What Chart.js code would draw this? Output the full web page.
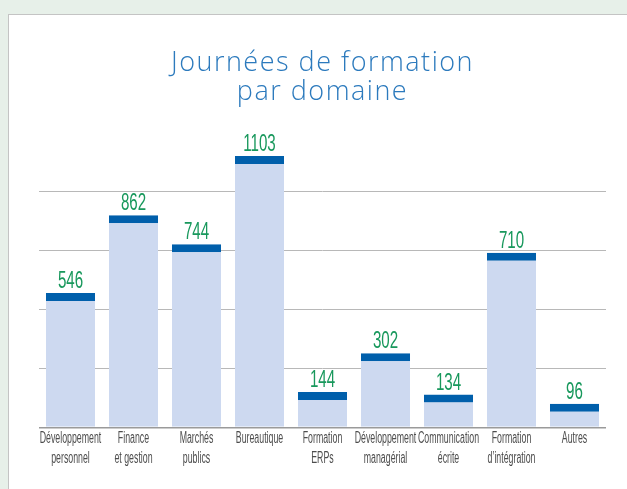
<!DOCTYPE html>
<html>
<head>
<meta charset="utf-8">
<script src="https://cdn.jsdelivr.net/npm/chart.js@4.4.1/dist/chart.umd.min.js"></script>
<style>
  html, body { margin: 0; padding: 0; width: 627px; height: 489px; overflow: hidden; background: #e7f0e9; }
  .card { position: absolute; left: 8px; top: 14px; width: 640px; height: 500px; background: #fff; border: 1px solid #c4c4c4; }
  #wrap { position: absolute; left: 0; top: 0; width: 627px; height: 489px; }
</style>
</head>
<body>
<div class="card"></div>
<div id="wrap"><canvas id="chart"></canvas></div>
<script>
// Domains and number of training days
const domains = [
  ['Développement', 'personnel'],
  ['Finance', 'et gestion'],
  ['Marchés', 'publics'],
  ['Bureautique'],
  ['Formation', 'ERPs'],
  ['Développement', 'managérial'],
  ['Communication', 'écrite'],
  ['Formation', 'd\u2019intégration'],
  ['Autres']
];
const days = [546, 862, 744, 1103, 144, 302, 134, 710, 96];
const gridTicks = [0, 240, 480, 720, 960];

const titleLines = ['Journées de formation', 'par domaine'];

// condensed text helper (the original uses a narrow DIN-like face)
function narrowText(ctx, text, x, y, sx) {
  ctx.save();
  ctx.translate(x, y);
  ctx.scale(sx, 1);
  ctx.fillText(text, 0, 0);
  ctx.restore();
}

const labelsPlugin = {
  id: 'labelsPlugin',
  beforeDraw(chart) {
    const ctx = chart.ctx;
    const cx = (chart.chartArea.left + chart.chartArea.right) / 2;
    ctx.save();
    ctx.fillStyle = '#2c7abd';
    ctx.font = '300 27px "Open Sans"';
    ctx.letterSpacing = '1.5px';
    ctx.textAlign = 'center';
    ctx.textBaseline = 'alphabetic';
    titleLines.forEach((t, i) => ctx.fillText(t, cx, 71 + i * 29));
    ctx.restore();
  },
  afterDatasetsDraw(chart) {
    const ctx = chart.ctx;
    const meta = chart.getDatasetMeta(0);
    ctx.save();
    // values above bars
    ctx.fillStyle = '#18985c';
    ctx.font = '400 24px "Liberation Sans"';
    ctx.textAlign = 'center';
    ctx.textBaseline = 'alphabetic';
    meta.data.forEach((bar, i) => {
      narrowText(ctx, String(days[i]), bar.x, bar.y - 5, 0.63);
    });
    // category labels under the axis
    ctx.fillStyle = '#4d4d4d';
    ctx.font = '400 16px "Liberation Sans"';
    const x = chart.scales.x;
    domains.forEach((lines, i) => {
      const px = x.getPixelForValue(i);
      lines.forEach((t, j) => {
        narrowText(ctx, t, px, 443 + j * 20, 0.55);
      });
    });
    ctx.restore();
  }
};

const ctx = document.getElementById('chart').getContext('2d');
const chart = new Chart(ctx, {
  type: 'bar',
  data: {
    labels: domains,
    datasets: [{
      data: days,
      backgroundColor: '#cdd9f0',
      borderColor: '#005fab',
      borderWidth: { top: 8, right: 0, bottom: 0, left: 0 },
      borderSkipped: 'bottom',
      barPercentage: 0.78,
      categoryPercentage: 1
    }]
  },
  options: {
    responsive: true,
    maintainAspectRatio: false,
    animation: false,
    layout: { padding: { left: 39, right: 21, top: 132, bottom: 61.5 } },
    plugins: {
      legend: { display: false },
      tooltip: { enabled: false },
      title: { display: false }
    },
    scales: {
      x: { display: false },
      y: {
        min: 0,
        max: 1200,
        afterBuildTicks: (scale) => {
          scale.ticks = gridTicks.map(v => ({ value: v }));
        },
        ticks: { display: false },
        border: { display: false },
        grid: {
          drawTicks: false,
          color: (c) => c.tick && c.tick.value === 0 ? '#9a9a9a' : '#b8b8b8',
          lineWidth: (c) => c.tick && c.tick.value === 0 ? 1.5 : 1
        }
      }
    }
  },
  plugins: [labelsPlugin]
});
</script>
</body>
</html>
